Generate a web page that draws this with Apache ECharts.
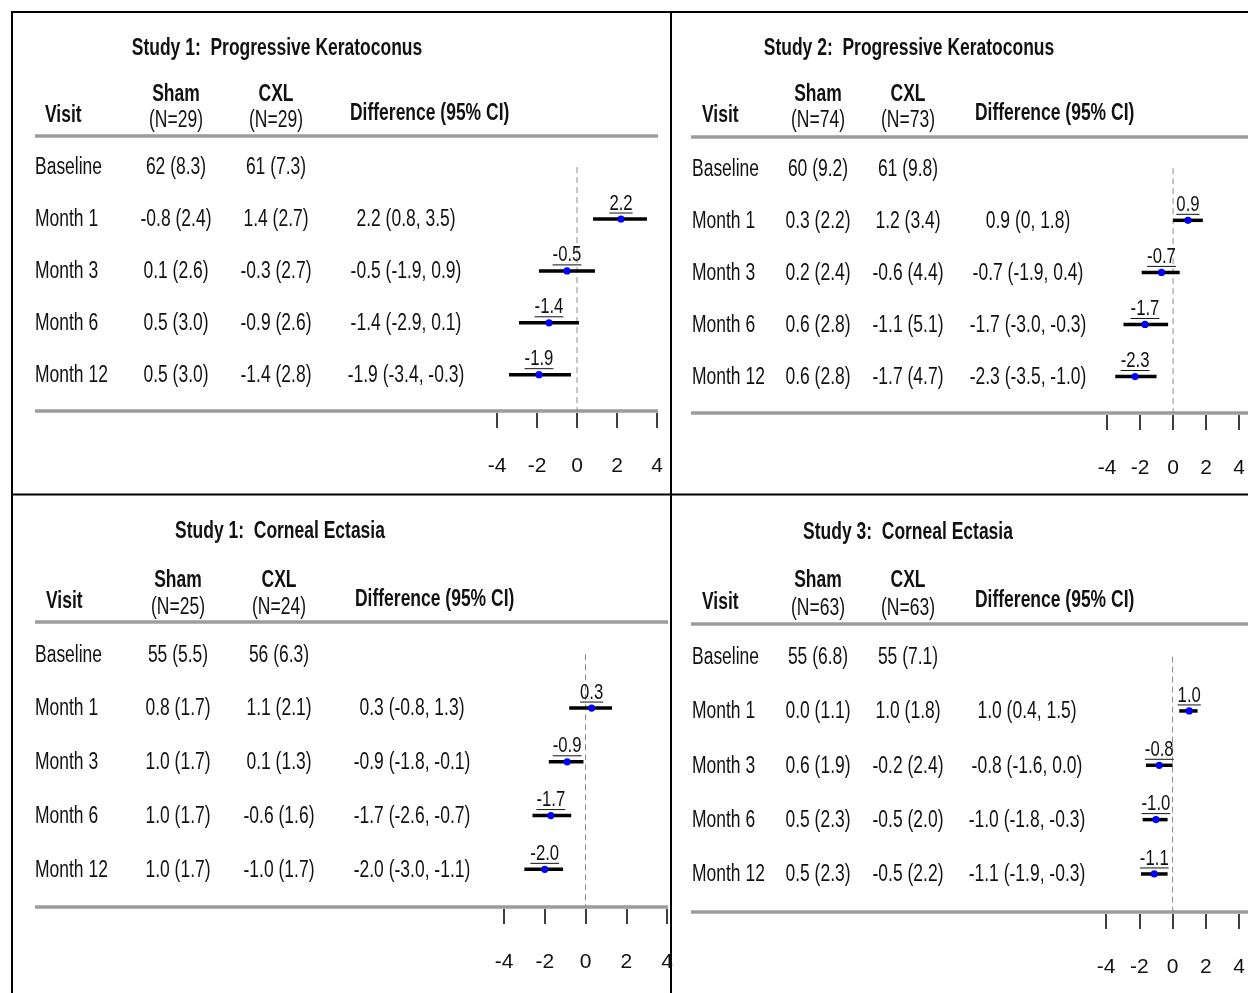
<!DOCTYPE html>
<html>
<head>
<meta charset="utf-8">
<title>Forest plots</title>
<script src="https://cdn.jsdelivr.net/npm/echarts@6/dist/echarts.min.js"></script>
<style>
  html, body { margin: 0; padding: 0; background: #fff; }
  #chart { width: 1248px; height: 993px; }
</style>
</head>
<body>
<div id="chart"></div>
<script>
  // ---- data ----
  const visits = ["Baseline", "Month 1", "Month 3", "Month 6", "Month 12"];
  const panelTitles = [
    "Study 1:  Progressive Keratoconus",
    "Study 2:  Progressive Keratoconus",
    "Study 1:  Corneal Ectasia",
    "Study 3:  Corneal Ectasia"
  ];
  const shamN = [29, 74, 25, 63];
  const cxlN = [29, 73, 24, 63];
  const tickValues = [-4, -2, 0, 2, 4];

  // Study 1 progressive keratoconus
  const kc1Sham = ["62 (8.3)", "-0.8 (2.4)", "0.1 (2.6)", "0.5 (3.0)", "0.5 (3.0)"];
  const kc1Cxl = ["61 (7.3)", "1.4 (2.7)", "-0.3 (2.7)", "-0.9 (2.6)", "-1.4 (2.8)"];
  const kc1DiffText = ["", "2.2 (0.8, 3.5)", "-0.5 (-1.9, 0.9)", "-1.4 (-2.9, 0.1)", "-1.9 (-3.4, -0.3)"];
  const kc1Diff = [null, 2.2, -0.5, -1.4, -1.9];
  const kc1Low = [null, 0.8, -1.9, -2.9, -3.4];
  const kc1High = [null, 3.5, 0.9, 0.1, -0.3];

  // Study 2 progressive keratoconus
  const kc2Sham = ["60 (9.2)", "0.3 (2.2)", "0.2 (2.4)", "0.6 (2.8)", "0.6 (2.8)"];
  const kc2Cxl = ["61 (9.8)", "1.2 (3.4)", "-0.6 (4.4)", "-1.1 (5.1)", "-1.7 (4.7)"];
  const kc2DiffText = ["", "0.9 (0, 1.8)", "-0.7 (-1.9, 0.4)", "-1.7 (-3.0, -0.3)", "-2.3 (-3.5, -1.0)"];
  const kc2Diff = [null, 0.9, -0.7, -1.7, -2.3];
  const kc2Low = [null, 0, -1.9, -3.0, -3.5];
  const kc2High = [null, 1.8, 0.4, -0.3, -1.0];

  // Study 1 corneal ectasia
  const ce1Sham = ["55 (5.5)", "0.8 (1.7)", "1.0 (1.7)", "1.0 (1.7)", "1.0 (1.7)"];
  const ce1Cxl = ["56 (6.3)", "1.1 (2.1)", "0.1 (1.3)", "-0.6 (1.6)", "-1.0 (1.7)"];
  const ce1DiffText = ["", "0.3 (-0.8, 1.3)", "-0.9 (-1.8, -0.1)", "-1.7 (-2.6, -0.7)", "-2.0 (-3.0, -1.1)"];
  const ce1Diff = [null, 0.3, -0.9, -1.7, -2.0];
  const ce1Low = [null, -0.8, -1.8, -2.6, -3.0];
  const ce1High = [null, 1.3, -0.1, -0.7, -1.1];

  // Study 3 corneal ectasia
  const ce3Sham = ["55 (6.8)", "0.0 (1.1)", "0.6 (1.9)", "0.5 (2.3)", "0.5 (2.3)"];
  const ce3Cxl = ["55 (7.1)", "1.0 (1.8)", "-0.2 (2.4)", "-0.5 (2.0)", "-0.5 (2.2)"];
  const ce3DiffText = ["", "1.0 (0.4, 1.5)", "-0.8 (-1.6, 0.0)", "-1.0 (-1.8, -0.3)", "-1.1 (-1.9, -0.3)"];
  const ce3Diff = [null, 1.0, -0.8, -1.0, -1.1];
  const ce3Low = [null, 0.4, -1.6, -1.8, -1.9];
  const ce3High = [null, 1.5, 0.0, -0.3, -0.3];

  // ---- layout (pixels) ----
  // narrow, tall lettering: Liberation Sans squeezed horizontally
  const FONT = "'Liberation Sans', Arial, sans-serif";
  const SQ = 0.76;
  const FS = 23;
  const TXT = "#111";
  const layouts = [
    { titleX: 277, titleY: 46, shamY: 92, nY: 118, visitY: 113, diffHY: 111, visitX: 45, labelX: 35,
      shamX: 176, cxlX: 276, diffHX: 350, diffX: 406, lineX1: 35, lineX2: 658, topY: 136, botY: 411,
      gridLeft: 497, gridWidth: 160 },
    { titleX: 909, titleY: 46, shamY: 92, nY: 118, visitY: 113, diffHY: 111, visitX: 702, labelX: 692,
      shamX: 818, cxlX: 908, diffHX: 975, diffX: 1028, lineX1: 691, lineX2: 1248, topY: 137, botY: 413,
      gridLeft: 1107, gridWidth: 144.6 },
    { titleX: 280, titleY: 529, shamY: 578, nY: 605, visitY: 599, diffHY: 597, visitX: 46, labelX: 35,
      shamX: 178, cxlX: 279, diffHX: 355, diffX: 412, lineX1: 35, lineX2: 668, topY: 622, botY: 907,
      gridLeft: 504, gridWidth: 163 },
    { titleX: 908, titleY: 530, shamY: 578, nY: 606, visitY: 600, diffHY: 598, visitX: 702, labelX: 692,
      shamX: 818, cxlX: 908, diffHX: 975, diffX: 1027, lineX1: 691, lineX2: 1248, topY: 624, botY: 912,
      gridLeft: 1106, gridWidth: 146.4 }
  ];

  const panels = [
    { sham: kc1Sham, cxl: kc1Cxl, diffText: kc1DiffText, diff: kc1Diff, low: kc1Low, high: kc1High },
    { sham: kc2Sham, cxl: kc2Cxl, diffText: kc2DiffText, diff: kc2Diff, low: kc2Low, high: kc2High },
    { sham: ce1Sham, cxl: ce1Cxl, diffText: ce1DiffText, diff: ce1Diff, low: ce1Low, high: ce1High },
    { sham: ce3Sham, cxl: ce3Cxl, diffText: ce3DiffText, diff: ce3Diff, low: ce3Low, high: ce3High }
  ];

  const measureCtx = document.createElement("canvas").getContext("2d");
  function textWidth(str, font) {
    measureCtx.font = font;
    return measureCtx.measureText(str).width;
  }

  // y given as visual centre of the capitals
  function txt(x, y, text, bold, align) {
    return {
      type: "text", x: x, y: y + 2.5, scaleX: SQ, silent: true,
      style: {
        text: text, fill: TXT, align: align || "center", verticalAlign: "middle",
        font: (bold ? "bold " : "") + FS + "px " + FONT
      }
    };
  }
  function hline(x1, x2, y, color, width) {
    return { type: "line", silent: true, shape: { x1: x1, y1: y, x2: x2, y2: y },
      style: { stroke: color, lineWidth: width } };
  }
  function vline(x, y1, y2, color, width) {
    return { type: "line", silent: true, shape: { x1: x, y1: y1, x2: x, y2: y2 },
      style: { stroke: color, lineWidth: width } };
  }

  const grids = [], xAxes = [], yAxes = [], series = [], graphics = [];

  // panel frame
  graphics.push(hline(11, 1248, 12, "#000", 2));
  graphics.push(vline(12, 11, 993, "#000", 2));
  graphics.push(vline(671, 11, 993, "#000", 2));
  graphics.push(hline(11, 1248, 494.5, "#000", 2));

  panels.forEach(function (p, i) {
    const L = layouts[i];

    // headers
    graphics.push(txt(L.titleX, L.titleY, panelTitles[i], true));
    graphics.push(txt(L.visitX, L.visitY, "Visit", true, "left"));
    graphics.push(txt(L.shamX, L.shamY, "Sham", true));
    graphics.push(txt(L.shamX, L.nY, "(N=" + shamN[i] + ")", false));
    graphics.push(txt(L.cxlX, L.shamY, "CXL", true));
    graphics.push(txt(L.cxlX, L.nY, "(N=" + cxlN[i] + ")", false));
    graphics.push(txt(L.diffHX, L.diffHY, "Difference (95% CI)", true, "left"));
    graphics.push(hline(L.lineX1, L.lineX2, L.topY, "#9c9c9c", 3.5));
    graphics.push(hline(L.lineX1, L.lineX2, L.botY, "#9c9c9c", 3.5));

    grids.push({ left: L.gridLeft, width: L.gridWidth, top: L.topY, height: L.botY - L.topY });
    xAxes.push({
      gridIndex: i, type: "value", min: -4, max: 4, interval: 2,
      position: "bottom", offset: 2,
      axisLine: { show: false, onZero: false },
      axisTick: { show: true, length: 15, lineStyle: { color: "#000", width: 1.5 } },
      axisLabel: {
        margin: 43, color: TXT, fontSize: 21, fontFamily: FONT,
        formatter: function (v) { return tickValues.indexOf(v) >= 0 ? String(v) : ""; }
      },
      splitLine: { show: false }
    });
    yAxes.push({ gridIndex: i, type: "value", min: -0.6, max: 4.7, inverse: true, show: false });

    // reference line at zero
    series.push({
      type: "line", xAxisIndex: i, yAxisIndex: i, silent: true, symbol: "none", z: 1,
      data: [[0, 0], [0, 4.7]],
      lineStyle: { color: "#8c8c8c", width: 1, type: [6, 4] }
    });

    // table rows
    series.push({
      type: "custom", xAxisIndex: i, yAxisIndex: i, silent: true, clip: false,
      data: visits.map(function (v, k) { return [0, k]; }),
      renderItem: function (params, api) {
        const k = api.value(1);
        const y = api.coord([0, k])[1] + 1;
        const font = FS + "px " + FONT;
        function cell(x, text, align) {
          return { type: "text", x: x, y: y, scaleX: SQ,
            style: { text: text, font: font, fill: TXT, align: align, verticalAlign: "middle" } };
        }
        return {
          type: "group",
          children: [
            cell(L.labelX, visits[k], "left"),
            cell(L.shamX, p.sham[k], "center"),
            cell(L.cxlX, p.cxl[k], "center"),
            cell(L.diffX, p.diffText[k], "center")
          ]
        };
      }
    });

    // estimates with confidence intervals
    const forestData = [];
    p.diff.forEach(function (d, k) {
      if (d !== null) forestData.push([d, k, p.low[k], p.high[k]]);
    });
    series.push({
      type: "custom", xAxisIndex: i, yAxisIndex: i, silent: true, clip: false, z: 3,
      data: forestData,
      renderItem: function (params, api) {
        const est = api.value(0), row = api.value(1);
        const pt = api.coord([est, row]);
        const a = api.coord([api.value(2), row]);
        const b = api.coord([api.value(3), row]);
        const label = est.toFixed(1);
        const lf = "22px " + FONT;
        const w = textWidth(label, lf) * SQ;
        return {
          type: "group",
          children: [
            { type: "line", shape: { x1: a[0], y1: pt[1], x2: b[0], y2: pt[1] }, style: { stroke: "#000", lineWidth: 3.5 } },
            { type: "circle", shape: { cx: pt[0], cy: pt[1], r: 3.6 }, style: { fill: "#0000ff" } },
            { type: "text", x: pt[0], y: pt[1] - 15.5, scaleX: SQ,
              style: { text: label, font: lf, fill: TXT, align: "center", verticalAlign: "middle" } },
            { type: "line", shape: { x1: pt[0] - w / 2, y1: pt[1] - 6, x2: pt[0] + w / 2, y2: pt[1] - 6 }, style: { stroke: "#111", lineWidth: 1 } }
          ]
        };
      }
    });
  });

  const chart = echarts.init(document.getElementById("chart"), null, { renderer: "canvas" });
  chart.setOption({
    animation: false,
    backgroundColor: "#fff",
    grid: grids,
    xAxis: xAxes,
    yAxis: yAxes,
    series: series,
    graphic: graphics
  });
</script>
</body>
</html>
